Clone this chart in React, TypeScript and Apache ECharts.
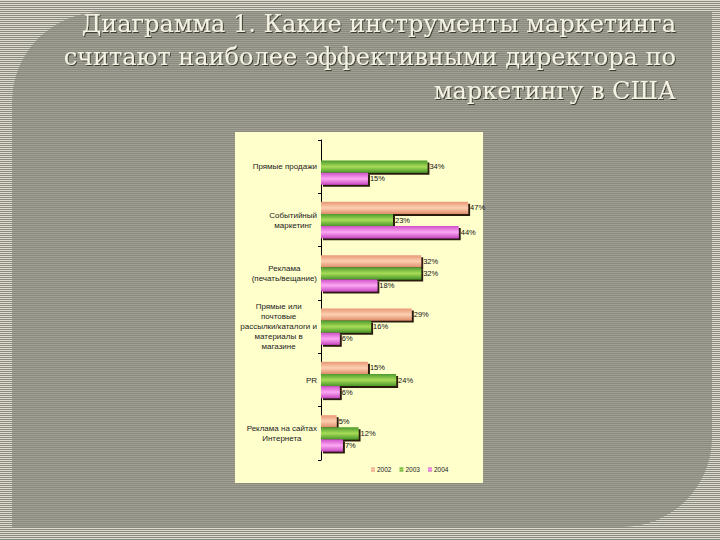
import React, { useEffect, useRef } from "react";
import * as echarts from "echarts";

const titleLines = [
  "Диаграмма 1. Какие инструменты маркетинга",
  "считают наиболее эффективными директора по",
  "маркетингу в США",
];
const categories = [
  "Прямые продажи",
  "Событийный\nмаркетинг",
  "Реклама\n(печать/вещание)",
  "Прямые или\nпочтовые\nрассылки/каталоги и\nматериалы в\nмагазине",
  "PR",
  "Реклама на сайтах\nИнтернета",
];
const years = ["2002", "2003", "2004"];
const values2002: (number | null)[] = [null, 47, 32, 29, 15, 5];
const values2003: (number | null)[] = [34, 23, 32, 16, 24, 12];
const values2004: (number | null)[] = [15, 44, 18, 6, 6, 7];

const palette = [
  ["#e89878", "#fcd0b0", "#e08c6c"],
  ["#4c9a2c", "#a8dc58", "#4a962a"],
  ["#d050c8", "#fca8f4", "#c848c0"],
];

export default function App() {
  const ref = useRef<HTMLDivElement>(null);
  useEffect(() => {
    if (!ref.current) return;
    const chart = echarts.init(ref.current, null, { renderer: "svg" });
    const seriesData = [values2002, values2003, values2004];
    const series = years.map((y, i) => ({
      name: y,
      type: "bar",
      data: seriesData[i].map((v) => (v === null ? "-" : v)),
      barGap: "0%",
      barCategoryGap: "32%",
      itemStyle: {
        color: new echarts.graphic.LinearGradient(0, 0, 0, 1, [
          { offset: 0, color: palette[i][0] },
          { offset: 0.5, color: palette[i][1] },
          { offset: 1, color: palette[i][2] },
        ]),
        shadowColor: "#2a1a10",
        shadowOffsetX: 2,
        shadowOffsetY: 2,
        shadowBlur: 0,
      },
      label: {
        show: true,
        position: "right",
        distance: 2,
        formatter: (p: any) => `${p.value}%`,
        fontSize: 7.5,
        color: "#111",
        fontFamily: "Liberation Sans, Arial, sans-serif",
      },
    }));
    chart.setOption({
      animation: false,
      backgroundColor: "transparent",
      graphic: [
        {
          type: "rect",
          z: -10,
          shape: { x: 235, y: 132, width: 248, height: 351 },
          style: { fill: "#ffffcc" },
        },
        ...titleLines.map((t, i) => ({
          type: "text",
          right: 44,
          top: [12, 45, 79][i],
          style: {
            text: t,
            font: '24px "DejaVu Serif"',
            fill: "#f4f2e2",
            textAlign: "right",
            textShadowColor: "rgba(40,40,30,0.8)",
            textShadowOffsetX: 1,
            textShadowOffsetY: 1,
            textShadowBlur: 1,
          },
        })),
      ],
      legend: {
        data: years,
        bottom: 62,
        left: 366,
        itemWidth: 4,
        itemHeight: 4,
        itemGap: 8,
        icon: "rect",
        textStyle: { fontSize: 6.5, color: "#222", padding: [0, 0, 0, -3] },
      },
      grid: { left: 321, top: 140, width: 156.5, height: 320, containLabel: false },
      xAxis: {
        type: "value",
        min: 0,
        max: 50,
        show: false,
      },
      yAxis: {
        type: "category",
        inverse: true,
        data: categories,
        axisLine: { show: true, lineStyle: { color: "#000", width: 1 } },
        axisTick: { show: true, length: 3, lineStyle: { color: "#000" } },
        axisLabel: {
          fontSize: 8,
          lineHeight: 10,
          color: "#222",
          margin: 4,
          align: "right",
          fontFamily: "Liberation Sans, Arial, sans-serif",
          formatter: (v: string) =>
            v
              .split("\n")
              .map((l) => `{c|${l}}`)
              .join("\n"),
          rich: { c: { align: "center", fontSize: 8, lineHeight: 10 } },
        },
      },
      series,
    });
    return () => chart.dispose();
  }, []);

  return (
    <div
      style={{
        position: "fixed",
        left: 0,
        top: 0,
        width: 720,
        height: 540,
        background:
          "repeating-linear-gradient(to bottom, #dedcd2 0px, #dedcd2 1px, #8a8a7e 1px, #8a8a7e 2px)",
      }}
    >
      <div
        style={{
          position: "absolute",
          left: 12,
          top: 12,
          width: 700,
          height: 515,
          borderRadius: "90px 0 90px 0",
          background:
            "repeating-linear-gradient(to bottom, #a0a094 0px, #a0a094 1px, #8a8a7e 1px, #8a8a7e 2px)",
        }}
      />
      <div ref={ref} style={{ position: "absolute", left: 0, top: 0, width: 720, height: 540 }} />
    </div>
  );
}
